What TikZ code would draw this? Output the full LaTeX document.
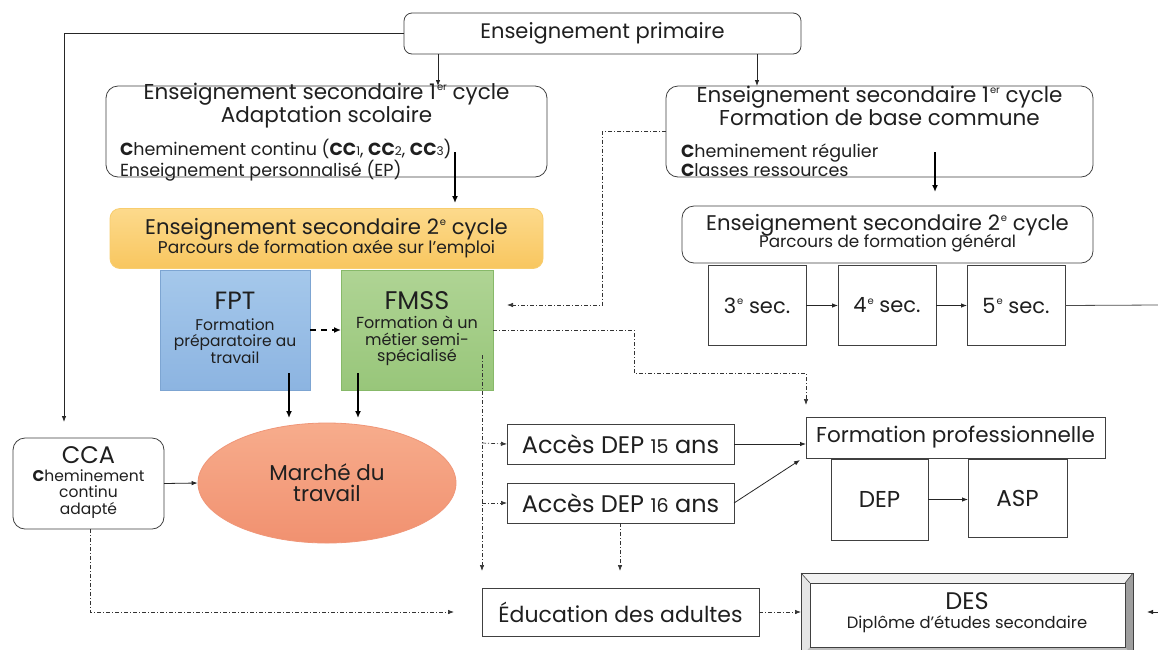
\documentclass[tikz,border=0pt]{standalone}
\usepackage{fontspec}
\setmainfont{Poppins}
\usetikzlibrary{arrows.meta,shapes.geometric}
\newcommand{\fs}[2]{\fontsize{#1}{#2}\selectfont}
\newcommand{\upx}[1]{\kern1pt\raisebox{0.75ex}{\fontsize{10}{10}\selectfont #1}}
\newcommand{\smd}[1]{{\fontsize{12}{12}\selectfont #1}}
\begin{document}
\begin{tikzpicture}[x=1pt,y=-1pt,
  bx/.style={draw=black!75, line width=0.8pt, inner sep=0pt, outer sep=0pt, text=black!88},
  rbx/.style={bx, rounded corners=12pt},
  txt/.style={inner sep=0pt, outer sep=0pt, text=black!88, align=center},
  ltxt/.style={inner sep=0pt, outer sep=0pt, text=black!88, align=left, anchor=west},
  arr/.style={-{Latex[length=6pt,width=4.5pt]}, line width=0.8pt, draw=black!85},
  thk/.style={-{Latex[length=7pt,width=6pt]}, line width=2pt, draw=black},
  dd/.style={-{Latex[length=6pt,width=4.5pt]}, line width=0.7pt, draw=black!80, dash pattern=on 4pt off 2pt on 1pt off 2pt},
]
\useasboundingbox (0,0) rectangle (1158,649);
\clip (0,0) rectangle (1158,649);
\fill[white] (0,0) rectangle (1158,649);

% --- nodes ---
\node[rbx, rounded corners=8pt, minimum width=397pt, minimum height=41pt, font=\fs{21}{22}] (prim) at (602.5,33.5) {Enseignement primaire};

\node[rbx, minimum width=441pt, minimum height=91pt] (as) at (326.5,131.5) {};
\node[txt, font=\fs{21.5}{21}] (ast) at (326.5,106) {Enseignement secondaire 1\upx{er} cycle\\Adaptation scolaire};
\node[ltxt, font=\fs{17.5}{16.5}] (asl) at (120,160) {\textbf{C}heminement continu (\textbf{CC}\smd{1}, \textbf{CC}\smd{2}, \textbf{CC}\smd{3})\\Enseignement personnalisé (EP)};

\node[rbx, minimum width=427pt, minimum height=91pt] (fbc) at (879.5,131.5) {};
\node[txt, font=\fs{21.5}{21}] (fbct) at (879.5,106) {Enseignement secondaire 1\upx{er} cycle\\Formation de base commune};
\node[ltxt, font=\fs{17.5}{16.5}] (fbcl) at (681,160) {\textbf{C}heminement régulier\\\textbf{C}lasses ressources};

\node[rbx, rounded corners=10pt, draw={rgb,255:red,248;green,205;blue,110}, top color={rgb,255:red,253;green,218;blue,140}, bottom color={rgb,255:red,248;green,198;blue,95}, minimum width=433pt, minimum height=60pt] (afe) at (326.5,238.5) {};
\node[txt, font=\fs{21.2}{20}] (afet) at (326.5,229) {Enseignement secondaire 2\upx{e} cycle};
\node[txt, font=\fs{17}{15}] (afes) at (326.5,249) {Parcours de formation axée sur l’emploi};

\node[rbx, minimum width=411pt, minimum height=57pt] (gen) at (887.5,234.5) {};
\node[txt, font=\fs{21.2}{20}] (gent) at (887.5,225) {Enseignement secondaire 2\upx{e} cycle};
\node[txt, font=\fs{16.8}{15}] (gens) at (887.5,243) {Parcours de formation général};

\node[bx, minimum width=98pt, minimum height=80pt, font=\fs{21}{21}] (s3) at (757,305.5) {3\upx{e} sec.};
\node[bx, minimum width=98pt, minimum height=80pt, font=\fs{21}{21}] (s4) at (887,305.5) {4\upx{e} sec.};
\node[bx, minimum width=98pt, minimum height=80pt, font=\fs{21}{21}] (s5) at (1016,305.5) {5\upx{e} sec.};

\node[bx, draw={rgb,255:red,125;green,165;blue,210}, top color={rgb,255:red,165;green,200;blue,235}, bottom color={rgb,255:red,140;green,180;blue,225}, minimum width=150pt, minimum height=120pt] (fpt) at (235,330) {};
\node[txt, font=\fs{25}{25}] (fptt) at (235,301) {FPT};
\node[txt, font=\fs{15.5}{16.5}] (fpts) at (235,341) {Formation\\préparatoire au\\travail};

\node[bx, draw={rgb,255:red,135;green,185;blue,105}, top color={rgb,255:red,175;green,212;blue,148}, bottom color={rgb,255:red,152;green,198;blue,122}, minimum width=152pt, minimum height=120pt] (fmss) at (417,330) {};
\node[txt, font=\fs{25.5}{25}] (fmsst) at (417,301) {FMSS};
\node[txt, font=\fs{16}{16.5}] (fmsss) at (417,341) {Formation à un\\métier semi-\\spécialisé};

\node[ellipse, draw={rgb,255:red,240;green,150;blue,120}, line width=0.8pt, inner sep=0pt, top color={rgb,255:red,247;green,172;blue,140}, bottom color={rgb,255:red,241;green,145;blue,112}, minimum width=258pt, minimum height=120pt, text=black!88, align=center, font=\fs{21.5}{21}] (mar) at (327,483) {Marché du\\travail};

\node[rbx, minimum width=151pt, minimum height=91pt] (cca) at (88.5,483.5) {};
\node[txt, font=\fs{24}{24}] (ccat) at (88.5,455) {CCA};
\node[txt, font=\fs{15.5}{16.5}] (ccas) at (88.5,494) {\textbf{C}heminement\\continu\\adapté};

\node[bx, minimum width=227pt, minimum height=40pt, font=\fs{24}{24}] (a15) at (620.5,444) {Accès DEP {\fs{19}{19}15} ans};
\node[bx, minimum width=227pt, minimum height=40pt, font=\fs{24}{24}] (a16) at (620.5,503) {Accès DEP {\fs{19}{19}16} ans};

\node[bx, minimum width=299pt, minimum height=41pt, font=\fs{21.5}{21}] (fp) at (955.5,437.5) {Formation professionnelle};
\node[bx, minimum width=97pt, minimum height=81pt, font=\fs{23}{23}] (dep) at (879.5,499.5) {DEP};
\node[bx, minimum width=99pt, minimum height=78pt, font=\fs{23}{23}] (asp) at (1017.5,498) {ASP};

\node[bx, minimum width=277pt, minimum height=48pt, font=\fs{22}{22}] (edu) at (620.5,612) {Éducation des adultes};

% DES bevelled box
\node[bx, fill=white, minimum width=332pt, minimum height=84pt] (des) at (967,615) {};
\fill[black!5] (des.north west) -- (des.north east) -- ([shift={(-8,10)}]des.north east) -- ([shift={(9,10)}]des.north west) -- cycle;
\fill[black!10] (des.north west) -- ([shift={(9,10)}]des.north west) -- ([shift={(9,-10)}]des.south west) -- (des.south west) -- cycle;
\fill[black!38] (des.north east) -- (des.south east) -- ([shift={(-8,-10)}]des.south east) -- ([shift={(-8,10)}]des.north east) -- cycle;
\fill[black!25] (des.south west) -- ([shift={(9,-10)}]des.south west) -- ([shift={(-8,-10)}]des.south east) -- (des.south east) -- cycle;
\draw[black!70, line width=0.6pt] (des.north west) -- ([shift={(9,10)}]des.north west) (des.north east) -- ([shift={(-8,10)}]des.north east);
\draw[black!75, line width=0.8pt] ([shift={(9,10)}]des.north west) rectangle ([shift={(-8,-10)}]des.south east);
\draw[black!75, line width=0.8pt] (des.north west) rectangle (des.south east);
\node[txt, font=\fs{24}{24}] (dest) at (967,601) {DES};
\node[txt, font=\fs{16.4}{16}] (dess) at (967,624) {Diplôme d’études secondaire};

% --- coordinates ---
\coordinate (x438) at (438,0);
\coordinate (x757) at (757,0);
\coordinate (c1) at (64,422);
\coordinate (t1) at (455,152); \coordinate (t1e) at (455,203);
\coordinate (t2) at (935,152); \coordinate (t2e) at (935,192);
\coordinate (t3) at (289,373); \coordinate (t3e) at (289,418);
\coordinate (t4) at (358,373); \coordinate (t4e) at (358,418);
\coordinate (k1) at (602,305); \coordinate (k2) at (507,305);
\coordinate (m1) at (634,330); \coordinate (m2) at (806,373); \coordinate (m3) at (806,405);
\coordinate (v1) at (482,355); \coordinate (v2) at (482,571);
\coordinate (v3) at (482,443); \coordinate (v4) at (482,503);
\coordinate (w1) at (620,571);
\coordinate (e1) at (90,0); \coordinate (e2) at (454,612);
\coordinate (r1) at (1158,305);
\coordinate (r2) at (1158,612); \coordinate (r3) at (1147,612);
\coordinate (f1) at (800,460);

% --- connectors ---
\draw[arr] (prim.west) -| (c1);
\draw[arr] (prim.south -| x438) -- (as.north -| x438);
\draw[arr] (prim.south -| x757) -- (fbc.north -| x757);
\draw[thk] (t1) -- (t1e);
\draw[thk] (t2) -- (t2e);
\draw[-{Latex[length=7pt,width=6pt]}, line width=2pt, dash pattern=on 6pt off 5pt] (fpt.east) -- (fmss.west);
\draw[thk] (t3) -- (t3e);
\draw[thk] (t4) -- (t4e);
\draw[arr] (cca.east) -- (mar.west);
\draw[dd] (cca.south -| e1) |- (e2);
\draw[dd] (fbc.west) -| (k1) -- (k2);
\draw[dd] (fmss.east) -- (m1) |- (m2) -- (m3);
\draw[dd] (v1) -- (v2);
\draw[dd] (v3) -- (a15.west);
\draw[dd] (v4) -- (a16.west);
\draw[dd] (a16.south -| w1) -- (w1);
\draw[arr] (a15.east) -- (a15.east -| fp.west);
\draw[arr] (a16.east) -- (f1);
\draw[arr] (s3.east) -- (s4.west);
\draw[arr] (s4.east) -- (s5.west);
\draw[line width=0.8pt, black!70] (s5.east) -- (r1);
\draw[arr] (dep.east) -- (dep.east -| asp.west);
\draw[dd] (edu.east) -- (edu.east -| des.west);
\draw[arr] (r2) -- (r3);
\end{tikzpicture}
\end{document}
